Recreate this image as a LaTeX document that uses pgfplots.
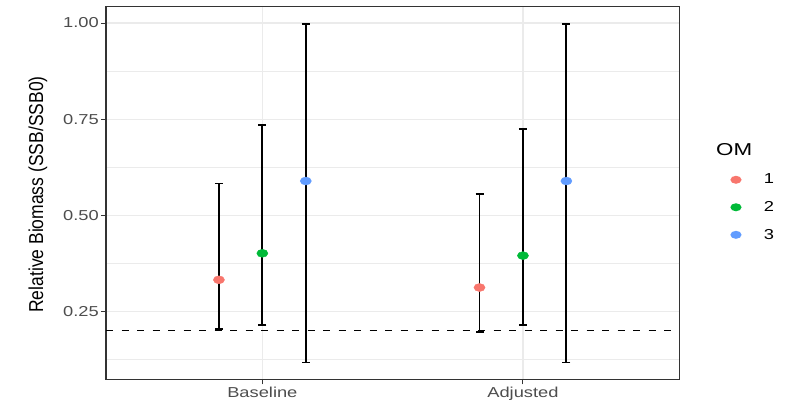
\documentclass[border=0pt]{standalone}
\usepackage{fontspec}
\setmainfont{Liberation Sans}
\usepackage{graphicx}
\usepackage{pgfplots}
\usepackage{pgfplotstable}
\pgfplotsset{compat=1.18}

\definecolor{om1}{HTML}{F8766D}
\definecolor{om2}{HTML}{00BA38}
\definecolor{om3}{HTML}{619CFF}
\definecolor{gray20}{HTML}{333333}
\definecolor{gray30}{HTML}{4D4D4D}
\definecolor{gray92}{HTML}{EBEBEB}

% wide glyphs used throughout the chart
\newcommand\hs[1]{\scalebox{1.27}[1]{#1}}

% columns: dodged x position, median, lower and upper bound
\pgfplotstableread{
x       y      lo      hi
0.8333  0.332  0.204   0.583
1.8333  0.312  0.196   0.556
}\omone
\pgfplotstableread{
x       y      lo      hi
1.0     0.401  0.215   0.735
2.0     0.395  0.215   0.724
}\omtwo
\pgfplotstableread{
x       y      lo      hi
1.1667  0.589  0.1175  0.997
2.1667  0.589  0.1175  0.997
}\omthree

\pgfplotsset{
  interval/.style={only marks, mark=none, forget plot,
    error bars/.cd, y dir=both, y explicit,
    error bar style={draw=black, line width=1.8pt},
    error mark=|,
    error mark options={draw=black, line width=1.6pt, mark size=4pt}},
  median/.style={only marks, #1, mark=*, mark size=4pt,
    mark options={xscale=1.4, draw=none, fill=#1}},
}

\begin{document}
\begin{tikzpicture}
\begin{axis}[
  at={(106pt,24.7pt)}, anchor=south west,
  scale only axis, width=573.3pt, height=372.3pt,
  xmin=0.4, xmax=2.6, ymin=0.0733, ymax=1.0416,
  xtick={1,2}, xticklabels={\hs{Baseline},\hs{Adjusted}},
  ytick={0.25,0.5,0.75,1},
  yticklabels={\hs{0.25},\hs{0.50},\hs{0.75},\hs{1.00}},
  minor ytick={0.125,0.375,0.625,0.875},
  minor tick length=0pt,
  xtick pos=bottom, ytick pos=left,
  tick align=outside, major tick length=5pt,
  tick style={gray20, line width=0.9pt},
  axis line style={gray20, line width=1pt},
  xmajorgrids, ymajorgrids, yminorgrids,
  major grid style={gray92, line width=1.2pt},
  minor grid style={gray92, line width=0.6pt},
  ticklabel style={font=\fontsize{14.4}{16}\selectfont, text=gray30},
  yticklabel style={inner sep=0pt, xshift=-2pt},
  xticklabel style={inner sep=0pt, yshift=-3pt},
  clip=false,
  legend style={at={(1.0793,0.5625)}, anchor=north west, draw=none, fill=none,
    font=\fontsize{14.4}{16}\selectfont, row sep=12pt},
  legend cell align=left,
  legend image code/.code={%
    \path[draw=none, fill=none] (-8pt,0pt) -- (26pt,0pt);
    \fill[#1, draw=none] (0pt,0pt) ellipse (5.6pt and 4pt);},
]
% threshold
\addplot[black, line width=1.5pt, dash pattern=on 7pt off 8.5pt, forget plot]
  coordinates {(0.4,0.2) (2.6,0.2)};

% intervals
\addplot[interval] table[x=x, y=y,
    y error plus expr=\thisrow{hi}-\thisrow{y},
    y error minus expr=\thisrow{y}-\thisrow{lo}] {\omone};
\addplot[interval] table[x=x, y=y,
    y error plus expr=\thisrow{hi}-\thisrow{y},
    y error minus expr=\thisrow{y}-\thisrow{lo}] {\omtwo};
\addplot[interval] table[x=x, y=y,
    y error plus expr=\thisrow{hi}-\thisrow{y},
    y error minus expr=\thisrow{y}-\thisrow{lo}] {\omthree};

% medians
\addplot[median=om1] table[x=x,y=y] {\omone};
\addlegendentry{\hs{1}}
\addplot[median=om2] table[x=x,y=y] {\omtwo};
\addlegendentry{\hs{2}}
\addplot[median=om3] table[x=x,y=y] {\omthree};
\addlegendentry{\hs{3}}
\end{axis}

\node[rotate=90, font=\fontsize{17.5}{20}\selectfont] at (38pt,209.5pt)
  {\scalebox{1}[1.15]{Relative Biomass (SSB/SSB0)}};
\node[anchor=west, inner sep=0pt, font=\fontsize{17.2}{20}\selectfont]
  at (716pt,254pt) {\scalebox{1.3}[1]{OM}};
\pgfresetboundingbox
\path[use as bounding box] (0pt,0pt) rectangle (795pt,404pt);
\end{tikzpicture}
\end{document}
